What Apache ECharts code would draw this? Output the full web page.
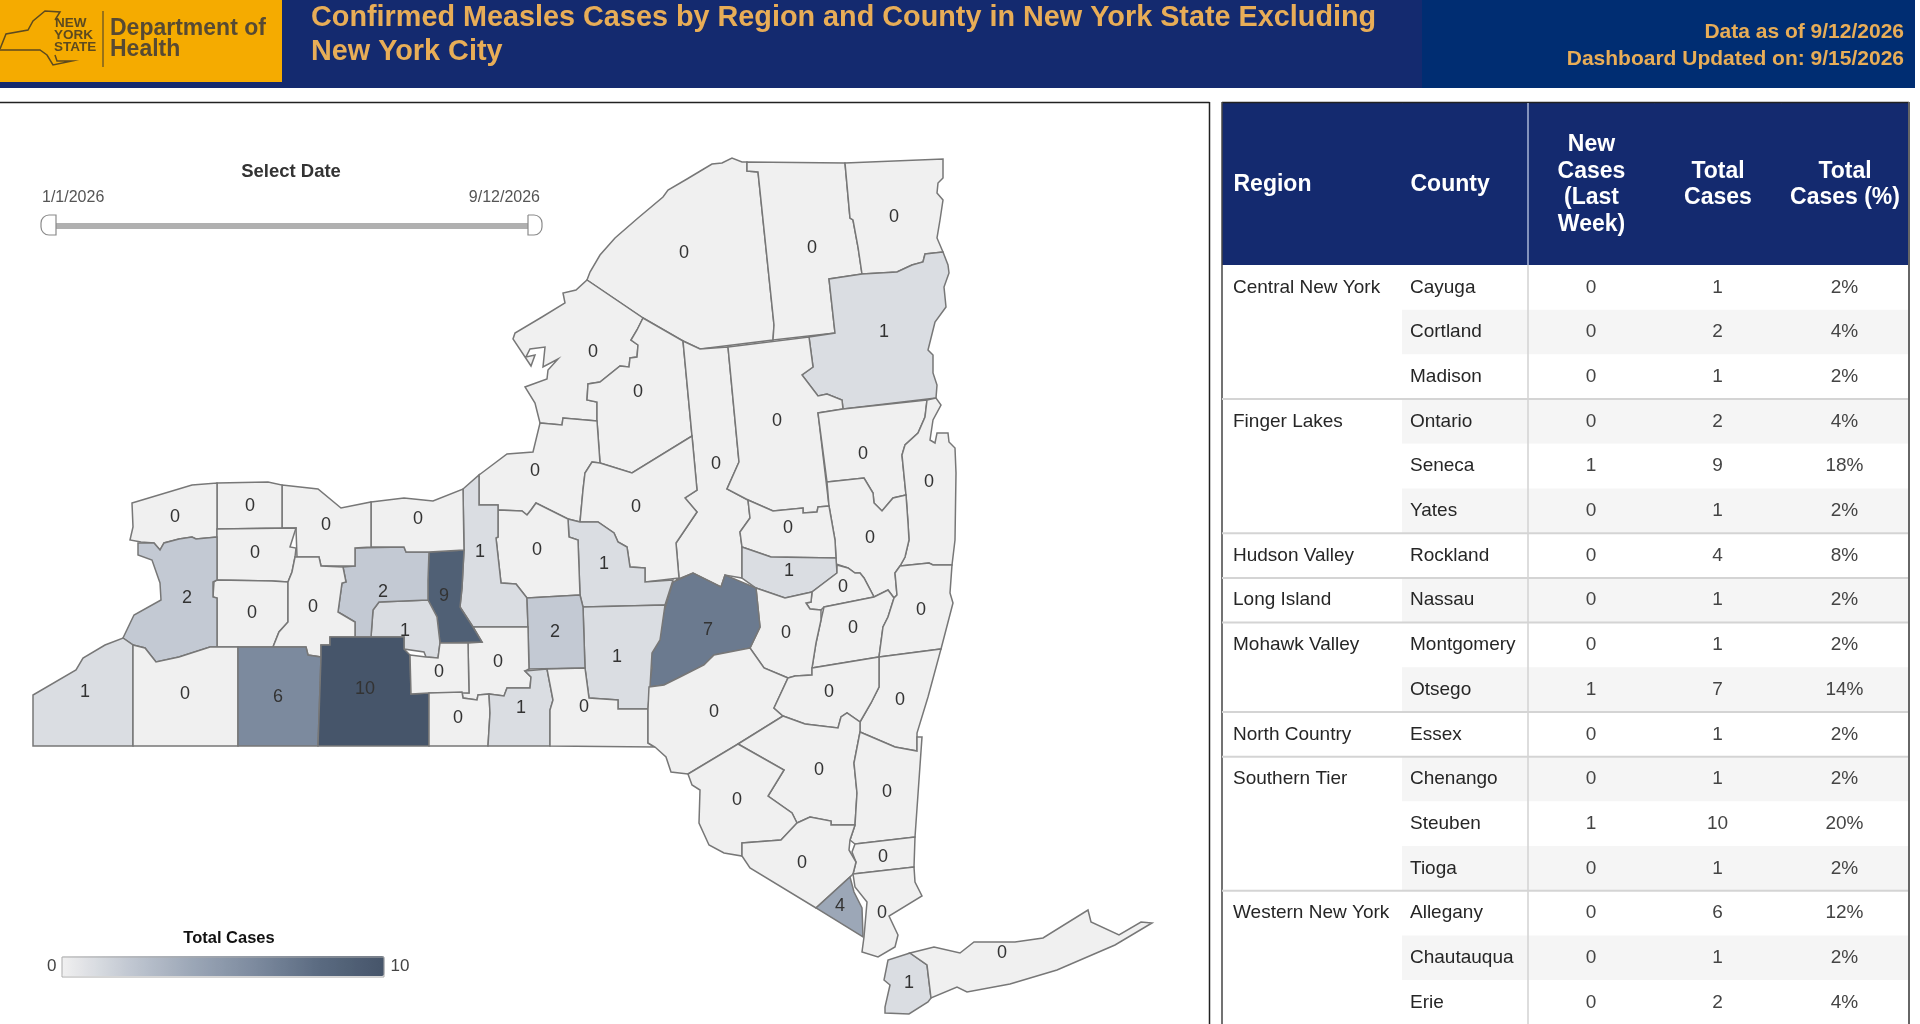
<!DOCTYPE html>
<html>
<head>
<meta charset="utf-8">
<title>Confirmed Measles Cases</title>
<script src="https://cdn.jsdelivr.net/npm/echarts@6/dist/echarts.min.js"></script>
<style>
html, body { margin: 0; padding: 0; background: #fff; overflow: hidden; }
#main { width: 1920px; height: 1024px; }
</style>
</head>
<body>
<div id="main"></div>
<script>
// table columns
var tableHeaders = ['Region', 'County', 'New\nCases\n(Last\nWeek)', 'Total\nCases', 'Total\nCases (%)'];
var tableRegions = ['Central New York', '', '', 'Finger Lakes', '', '', 'Hudson Valley', 'Long Island', 'Mohawk Valley', '', 'North Country', 'Southern Tier', '', '', 'Western New York', '', ''];
var tableCounties = ['Cayuga', 'Cortland', 'Madison', 'Ontario', 'Seneca', 'Yates', 'Rockland', 'Nassau', 'Montgomery', 'Otsego', 'Essex', 'Chenango', 'Steuben', 'Tioga', 'Allegany', 'Chautauqua', 'Erie'];
var tableNewCases = [0, 0, 0, 0, 1, 0, 0, 0, 0, 1, 0, 0, 1, 0, 0, 0, 0];
var tableTotalCases = [1, 2, 1, 2, 9, 1, 4, 1, 1, 7, 1, 1, 10, 1, 6, 1, 2];
var tablePercent = ['2%', '4%', '2%', '4%', '18%', '2%', '8%', '2%', '2%', '14%', '2%', '2%', '20%', '2%', '12%', '2%', '4%'];

// counties on the map, total cases (all the others are zero)
var countyNames = ['St. Lawrence', 'Franklin', 'Clinton', 'Essex', 'Jefferson', 'Lewis', 'Herkimer', 'Hamilton', 'Warren', 'Washington', 'Saratoga', 'Fulton', 'Montgomery', 'Oswego', 'Oneida', 'Schenectady', 'Albany', 'Rensselaer', 'Schoharie', 'Otsego', 'Madison', 'Onondaga', 'Cayuga', 'Chenango', 'Cortland', 'Tompkins', 'Seneca', 'Yates', 'Ontario', 'Wayne', 'Monroe', 'Orleans', 'Niagara', 'Genesee', 'Wyoming', 'Livingston', 'Erie', 'Chautauqua', 'Cattaraugus', 'Allegany', 'Steuben', 'Schuyler', 'Chemung', 'Tioga', 'Broome', 'Delaware', 'Columbia', 'Greene', 'Ulster', 'Sullivan', 'Dutchess', 'Putnam', 'Orange', 'Rockland', 'Westchester', 'Nassau', 'Suffolk'];
var countyTotals = [0, 0, 0, 1, 0, 0, 0, 0, 0, 0, 0, 0, 1, 0, 0, 0, 0, 0, 0, 7, 1, 0, 1, 1, 2, 0, 9, 1, 2, 0, 0, 0, 0, 0, 0, 0, 2, 1, 0, 6, 10, 0, 0, 1, 0, 0, 0, 0, 0, 0, 0, 0, 0, 4, 0, 1, 0];

// where each county's number sits
var labelSpots = {
	'St. Lawrence': [684, 253], 'Franklin': [812, 248], 'Clinton': [894, 217], 'Essex': [884, 332], 'Jefferson': [593, 352],
	'Lewis': [638, 392], 'Herkimer': [716, 464], 'Hamilton': [777, 421], 'Warren': [863, 454], 'Washington': [929, 482],
	'Saratoga': [870, 538], 'Fulton': [788, 528], 'Montgomery': [789, 571], 'Oswego': [535, 471], 'Oneida': [636, 507],
	'Schenectady': [843, 587], 'Albany': [853, 628], 'Rensselaer': [921, 610], 'Schoharie': [786, 633], 'Otsego': [708, 630],
	'Madison': [604, 564], 'Onondaga': [537, 550], 'Cayuga': [480, 552], 'Chenango': [617, 657], 'Cortland': [555, 632],
	'Tompkins': [498, 662], 'Seneca': [444, 596], 'Yates': [405, 631], 'Ontario': [383, 592], 'Wayne': [418, 519],
	'Monroe': [326, 525], 'Orleans': [250, 506], 'Niagara': [175, 517], 'Genesee': [255, 553], 'Wyoming': [252, 613],
	'Livingston': [313, 607], 'Erie': [187, 598], 'Chautauqua': [85, 692], 'Cattaraugus': [185, 694], 'Allegany': [278, 697],
	'Steuben': [365, 689], 'Schuyler': [439, 672], 'Chemung': [458, 718], 'Tioga': [521, 708], 'Broome': [584, 707],
	'Delaware': [714, 712], 'Columbia': [900, 700], 'Greene': [829, 692], 'Ulster': [819, 770], 'Sullivan': [737, 800],
	'Dutchess': [887, 792], 'Putnam': [883, 857], 'Orange': [802, 863], 'Rockland': [840, 906], 'Westchester': [882, 913],
	'Nassau': [909, 983], 'Suffolk': [1002, 953]
};

// county outlines
var countyOutlines = {
	'St. Lawrence': [[587,280],[590,272],[600,255],[615,238],[638,218],[663,197],[668,190],[687,179],[702,170],[712,164],[722,163],[732,158],[742,162],[747,162],[747,171],[758,172],[774,325],[773,340],[700,349],[683,341],[643,318]],
	'Franklin': [[747,162],[845,163],[850,218],[853,220],[858,247],[862,274],[829,279],[835,333],[773,340],[774,325],[758,172],[747,171]],
	'Clinton': [[845,163],[943,159],[943,178],[938,183],[937,193],[943,200],[940,220],[937,238],[943,252],[925,254],[923,262],[912,265],[897,272],[862,274],[858,247],[853,220],[850,218]],
	'Essex': [[829,279],[862,274],[897,272],[912,265],[923,262],[925,254],[943,252],[948,265],[949,273],[944,287],[946,307],[935,322],[928,350],[933,355],[933,373],[937,385],[936,398],[843,409],[842,400],[827,394],[818,396],[802,375],[813,367],[809,337],[835,333]],
	'Jefferson': [[587,280],[643,318],[637,330],[631,340],[638,345],[637,357],[630,358],[629,367],[620,366],[600,382],[588,384],[587,400],[597,402],[597,421],[563,418],[562,425],[540,423],[535,403],[525,387],[547,379],[548,370],[558,359],[543,367],[545,347],[530,349],[526,357],[535,355],[531,366],[513,339],[515,333],[542,317],[565,303],[563,293],[576,290]],
	'Lewis': [[643,318],[683,341],[692,436],[632,473],[600,463],[597,421],[597,402],[587,400],[588,384],[600,382],[620,366],[629,367],[630,358],[637,357],[638,345],[631,340],[637,330]],
	'Herkimer': [[683,341],[700,349],[728,347],[739,462],[727,489],[748,500],[750,518],[740,532],[742,547],[742,578],[725,575],[721,587],[693,573],[676,580],[679,578],[676,543],[697,512],[685,498],[697,490],[692,436]],
	'Hamilton': [[728,347],[809,337],[813,367],[802,375],[818,396],[827,394],[842,400],[843,409],[818,413],[829,506],[818,507],[817,512],[803,513],[803,508],[773,511],[748,500],[727,489],[739,462]],
	'Warren': [[818,413],[843,409],[927,400],[925,417],[918,433],[905,445],[902,455],[906,495],[893,498],[882,511],[874,503],[873,493],[864,478],[827,482]],
	'Washington': [[927,400],[936,398],[941,405],[933,420],[930,440],[935,443],[937,433],[948,433],[949,442],[955,448],[956,473],[955,540],[952,565],[933,565],[929,563],[900,566],[905,557],[909,540],[908,523],[906,495],[902,455],[905,445],[918,433],[925,417]],
	'Saratoga': [[827,482],[864,478],[873,493],[874,503],[882,511],[893,498],[906,495],[908,523],[909,540],[905,557],[900,566],[895,573],[897,595],[894,598],[888,590],[874,597],[864,578],[860,573],[855,573],[848,568],[836,564],[836,558],[835,540],[829,506]],
	'Fulton': [[748,500],[773,511],[803,508],[803,513],[817,512],[818,507],[829,506],[835,540],[836,558],[771,557],[742,547],[740,532],[750,518]],
	'Montgomery': [[742,547],[771,557],[836,558],[837,573],[812,592],[785,598],[756,588],[742,578]],
	'Oswego': [[540,423],[562,425],[563,418],[597,421],[600,463],[592,462],[585,473],[583,490],[580,522],[568,519],[536,503],[531,510],[527,515],[522,511],[498,510],[498,505],[479,505],[479,475],[507,454],[533,452]],
	'Oneida': [[592,462],[600,463],[632,473],[692,436],[697,490],[685,498],[697,512],[676,543],[679,578],[645,582],[645,568],[630,567],[627,547],[618,542],[614,533],[598,522],[580,522],[583,490],[585,473]],
	'Schenectady': [[837,565],[848,568],[855,573],[860,573],[864,578],[874,597],[824,607],[821,610],[810,609],[806,603],[811,602],[812,592],[837,573]],
	'Albany': [[824,607],[874,597],[888,590],[894,598],[888,617],[883,627],[879,657],[812,668],[816,643],[821,620]],
	'Rensselaer': [[900,566],[929,563],[933,565],[952,565],[950,593],[953,603],[941,649],[879,657],[883,627],[888,617],[894,598],[897,595],[895,573]],
	'Schoharie': [[756,588],[785,598],[812,592],[811,602],[806,603],[810,609],[821,610],[821,620],[816,643],[812,668],[812,675],[795,676],[788,678],[764,668],[750,648],[760,627]],
	'Otsego': [[673,582],[693,573],[721,587],[725,575],[756,588],[760,627],[750,648],[714,655],[704,665],[680,677],[664,685],[649,687],[652,668],[650,653],[655,642],[661,620],[666,605]],
	'Madison': [[568,519],[580,522],[598,522],[614,533],[618,542],[627,547],[630,567],[645,568],[645,582],[673,580],[665,605],[583,607],[580,595],[578,540],[569,537]],
	'Onondaga': [[498,510],[522,511],[527,515],[531,510],[536,503],[568,519],[569,537],[578,540],[580,595],[527,598],[516,584],[501,583],[496,538],[498,537]],
	'Cayuga': [[479,475],[479,505],[498,505],[498,537],[496,538],[501,583],[516,584],[527,598],[528,627],[473,627],[460,607],[462,588],[464,550],[463,489]],
	'Chenango': [[583,607],[665,605],[660,640],[652,653],[650,687],[648,709],[618,709],[618,700],[589,698],[585,668]],
	'Cortland': [[527,598],[580,595],[583,607],[585,668],[529,669],[528,627]],
	'Tompkins': [[473,627],[528,627],[529,669],[525,671],[531,677],[530,688],[507,688],[504,696],[489,694],[478,695],[477,700],[463,698],[462,692],[469,693],[468,643],[482,642]],
	'Seneca': [[429,552],[464,550],[462,588],[460,607],[473,627],[482,642],[440,643],[437,617],[428,600],[428,580]],
	'Yates': [[379,602],[428,600],[437,617],[440,643],[438,658],[426,657],[424,652],[404,649],[404,637],[371,637],[373,610]],
	'Ontario': [[355,548],[404,547],[406,552],[429,552],[428,580],[428,600],[379,602],[373,610],[371,637],[355,637],[355,622],[338,612],[342,583],[346,582],[343,567],[355,566]],
	'Wayne': [[371,502],[404,498],[433,501],[463,489],[464,550],[429,552],[406,552],[404,547],[371,547]],
	'Monroe': [[282,485],[318,489],[341,508],[371,502],[371,547],[355,548],[355,566],[321,566],[319,557],[297,557],[296,528],[282,528]],
	'Orleans': [[217,483],[268,482],[282,485],[282,528],[217,529]],
	'Niagara': [[132,503],[192,485],[217,483],[217,529],[217,537],[196,539],[192,537],[179,539],[164,543],[160,550],[154,543],[141,542],[130,540],[133,527]],
	'Genesee': [[217,529],[296,528],[290,547],[296,548],[295,557],[292,572],[288,582],[272,581],[217,580]],
	'Wyoming': [[214,582],[217,580],[272,581],[288,582],[288,622],[279,632],[273,647],[217,647],[217,598],[213,597]],
	'Livingston': [[297,557],[319,557],[321,566],[343,567],[346,582],[342,583],[338,612],[355,622],[355,637],[330,637],[330,645],[321,645],[321,657],[308,655],[306,647],[273,647],[279,632],[288,622],[288,582],[292,572],[295,557]],
	'Erie': [[138,543],[154,543],[160,550],[164,543],[179,539],[192,537],[196,539],[217,537],[217,580],[213,582],[213,597],[217,598],[217,647],[210,647],[179,657],[156,662],[145,648],[133,645],[123,638],[134,615],[161,600],[160,583],[152,560],[138,555]],
	'Chautauqua': [[123,638],[133,645],[133,746],[33,746],[33,695],[76,670],[83,658],[105,645]],
	'Cattaraugus': [[133,645],[145,648],[156,662],[179,657],[210,647],[238,647],[238,746],[133,746]],
	'Allegany': [[238,647],[306,647],[308,655],[321,657],[318,746],[238,746]],
	'Steuben': [[330,637],[404,637],[404,649],[410,655],[411,694],[429,693],[429,746],[318,746],[321,657],[321,645],[330,645]],
	'Schuyler': [[410,655],[426,657],[438,658],[440,643],[468,643],[469,693],[429,693],[411,694]],
	'Chemung': [[429,693],[462,692],[463,698],[477,700],[478,695],[489,694],[490,713],[488,746],[429,746]],
	'Tioga': [[489,694],[504,696],[507,688],[530,688],[531,677],[525,671],[547,669],[553,700],[550,710],[550,746],[488,746],[490,713]],
	'Broome': [[547,669],[585,668],[589,698],[618,700],[618,709],[648,709],[648,743],[655,747],[550,746],[550,710],[553,700]],
	'Delaware': [[649,687],[664,685],[680,677],[704,665],[714,655],[750,648],[764,668],[788,678],[774,708],[783,716],[738,744],[688,774],[671,772],[666,757],[655,747],[648,743],[648,709]],
	'Greene': [[788,678],[795,676],[812,675],[812,668],[879,657],[879,687],[871,703],[860,722],[847,713],[841,717],[838,728],[805,724],[783,716],[774,708]],
	'Columbia': [[879,657],[941,649],[928,697],[917,733],[917,751],[895,747],[860,732],[860,722],[871,703],[879,687]],
	'Ulster': [[783,716],[805,724],[838,728],[841,717],[847,713],[860,722],[860,732],[854,763],[857,793],[855,825],[831,825],[831,821],[810,817],[797,823],[792,813],[768,796],[784,770],[738,744]],
	'Sullivan': [[738,744],[784,770],[768,796],[792,813],[797,823],[781,840],[742,843],[742,856],[724,853],[709,845],[699,823],[700,790],[692,785],[688,774]],
	'Dutchess': [[860,732],[895,747],[917,751],[917,737],[922,737],[915,837],[855,844],[850,840],[855,825],[857,793],[854,763]],
	'Putnam': [[855,844],[915,837],[914,867],[853,874],[856,862],[852,852]],
	'Orange': [[797,823],[810,817],[831,821],[831,825],[855,825],[850,840],[849,850],[856,862],[853,874],[850,877],[816,908],[750,868],[742,856],[742,843],[781,840]],
	'Rockland': [[850,877],[854,892],[862,908],[863,937],[816,908]],
	'Westchester': [[853,874],[914,867],[915,882],[922,896],[889,916],[898,935],[895,947],[878,957],[862,952],[864,937],[867,902],[855,887]],
	'Nassau': [[910,953],[888,960],[884,980],[890,985],[885,1007],[885,1013],[909,1014],[928,1002],[931,998],[927,965]],
	'Suffolk': [[910,953],[934,947],[960,953],[974,942],[1015,942],[1043,938],[1088,910],[1091,922],[1119,935],[1141,922],[1152,923],[1115,945],[1057,970],[1010,984],[967,992],[957,987],[931,998],[927,965]]
};

var shadeRamp = ['#f0f0f0', '#c3c9d3', '#9ca7b7', '#7c8a9e', '#5a6a80', '#46556a'];

var fontName = '"Liberation Sans", Arial, sans-serif';
var navy = '#142a6f';
var gold = '#e8ad57';

var tableLeft = 1222, tableTop = 103, headerH = 162, rowH = 44.7;
var colWidths = [180, 126, 126, 127, 127];
var textInset = [8, 5];

function buildGeoJson() {
	var features = [];
	for (var i = 0; i < countyNames.length; i++) {
		var name = countyNames[i];
		var ring = countyOutlines[name].slice();
		ring.push(ring[0]);
		features.push({
			type : 'Feature',
			properties : { name : name, cp : labelSpots[name] },
			geometry : { type : 'Polygon', coordinates : [ ring ] }
		});
	}
	return { type : 'FeatureCollection', features : features };
}

function buildMapData() {
	var list = [];
	for (var i = 0; i < countyNames.length; i++) {
		list.push({ name : countyNames[i], value : countyTotals[i] });
	}
	return list;
}

function buildCells() {
	var cells = [];
	var i, c;
	for (c = 0; c < tableHeaders.length; c++) {
		cells.push({
			coord : [ c, 0 ],
			value : tableHeaders[c],
			itemStyle : { color : navy, borderColor : navy, borderWidth : 1 },
			label : {
				color : '#fff', fontWeight : 'bold', fontSize : 23, lineHeight : 26.5, fontFamily : fontName,
				overflow : 'none',
				position : c < 2 ? 'insideLeft' : 'inside',
				distance : c < 2 ? textInset[c] : 0,
				align : c < 2 ? 'left' : 'center'
			}
		});
	}
	for (i = 0; i < tableCounties.length; i++) {
		var stripe = i % 2 === 1 ? '#f5f5f5' : '#ffffff';
		var row = [ tableRegions[i], tableCounties[i], tableNewCases[i], tableTotalCases[i], tablePercent[i] ];
		for (c = 0; c < row.length; c++) {
			cells.push({
				coord : [ c, i + 1 ],
				value : String(row[c]),
				itemStyle : { color : c === 0 ? '#ffffff' : stripe, borderWidth : 0 },
				label : {
					color : c < 2 ? '#262626' : '#444', fontSize : 19, fontFamily : fontName,
					overflow : 'none',
					position : c < 2 ? 'insideLeft' : 'inside',
					distance : c < 2 ? textInset[c] : 0,
					align : c < 2 ? 'left' : 'center'
				}
			});
		}
	}
	return cells;
}

function rowSizes() {
	var sizes = [ { value : 'header', size : headerH } ];
	for (var i = 0; i < tableCounties.length; i++) {
		sizes.push({ value : tableCounties[i], size : rowH });
	}
	return sizes;
}

function colSizes() {
	var sizes = [];
	for (var c = 0; c < colWidths.length; c++) {
		sizes.push({ value : 'c' + c, size : colWidths[c] });
	}
	return sizes;
}

function line(x1, y1, x2, y2, color, width) {
	return {
		type : 'line', silent : true, z : 50,
		shape : { x1 : x1, y1 : y1, x2 : x2, y2 : y2 },
		style : { stroke : color, lineWidth : width }
	};
}

function text(x, y, str, size, color, weight, align) {
	return {
		type : 'text', silent : true, z : 60, x : x, y : y,
		style : {
			text : str, fontSize : size, fontWeight : weight || 'normal', fill : color,
			fontFamily : fontName, align : align || 'left', verticalAlign : 'middle'
		}
	};
}

function buildGraphics() {
	var g = [];
	// banner
	g.push({ type : 'rect', silent : true, z : 40, shape : { x : 0, y : 0, width : 1915, height : 88 }, style : { fill : navy } });
	g.push({ type : 'rect', silent : true, z : 41, shape : { x : 1422, y : 0, width : 493, height : 88 }, style : { fill : '#002d72' } });
	g.push({ type : 'rect', silent : true, z : 41, shape : { x : 0, y : 0, width : 282, height : 82 }, style : { fill : '#f5ab00' } });
	g.push(text(311, 18, 'Confirmed Measles Cases by Region and County in New York State Excluding', 28.8, gold, 'bold'));
	g.push(text(311, 52, 'New York City', 28.8, gold, 'bold'));
	g.push(text(1904, 32, 'Data as of 9/12/2026', 21, gold, 'bold', 'right'));
	g.push(text(1904, 59, 'Dashboard Updated on: 9/15/2026', 21, gold, 'bold', 'right'));
	// logo
	g.push({
		type : 'polyline', silent : true, z : 60,
		shape : { points : [[0,49],[6,34],[28,30],[33,21],[45,11],[60,12],[55,20]] },
		style : { stroke : '#5d4a1f', lineWidth : 1.5, fill : null }
	});
	g.push({
		type : 'polyline', silent : true, z : 60,
		shape : { points : [[0,50],[40,50],[47,55],[53,65],[72,61],[57,61],[55,55]] },
		style : { stroke : '#5d4a1f', lineWidth : 1.5, fill : null }
	});
	g.push(text(55, 23, 'NEW', 13.5, '#5d4a1f', 'bold'));
	g.push(text(54, 35, 'YORK', 13.5, '#5d4a1f', 'bold'));
	g.push(text(54, 47, 'STATE', 13.5, '#5d4a1f', 'bold'));
	g.push(line(103, 11, 103, 67, '#7a5f20', 1.5));
	g.push(text(110, 29, 'Department of', 23, '#574a33', 'bold'));
	g.push(text(110, 50, 'Health', 23, '#574a33', 'bold'));
	// map panel frame
	g.push(line(0, 102.5, 1209.5, 102.5, '#222', 1.5));
	g.push(line(1209.5, 102, 1209.5, 1024, '#222', 1.5));
	// date slider
	g.push(text(291, 172, 'Select Date', 18.5, '#333', 'bold', 'center'));
	g.push(text(42, 198, '1/1/2026', 16, '#555'));
	g.push(text(540, 198, '9/12/2026', 16, '#555', 'normal', 'right'));
	g.push({ type : 'rect', silent : true, z : 50, shape : { x : 55, y : 223, width : 473, height : 6 }, style : { fill : '#b0b0b0' } });
	g.push({ type : 'rect', silent : true, z : 51, shape : { x : 41, y : 215, width : 15, height : 20, r : [ 8, 0, 0, 8 ] }, style : { fill : '#fff', stroke : '#8a8a8a', lineWidth : 1.2 } });
	g.push({ type : 'rect', silent : true, z : 51, shape : { x : 528, y : 215, width : 14, height : 20, r : [ 0, 8, 8, 0 ] }, style : { fill : '#fff', stroke : '#8a8a8a', lineWidth : 1.2 } });
	// legend
	g.push(text(229, 938, 'Total Cases', 16.5, '#111', 'bold', 'center'));
	g.push({ type : 'rect', silent : true, z : 60, shape : { x : 62, y : 957, width : 322, height : 20 }, style : { fill : null, stroke : '#aaa', lineWidth : 1 } });
	// table rules
	var bodyTop = tableTop + headerH;
	var splitX = tableLeft + colWidths[0] + colWidths[1];
	g.push(line(tableLeft, 102.5, 1909, 102.5, '#222', 1.5));
	g.push(line(tableLeft, 102, tableLeft, 1024, '#444', 1.5));
	g.push(line(1909, 102, 1909, 1024, '#666', 2));
	g.push(line(splitX, tableTop, splitX, bodyTop, '#a9b6d6', 1.5));
	g.push(line(splitX, bodyTop, splitX, 1024, '#d2d2d2', 1.5));
	for (var i = 1; i < tableRegions.length; i++) {
		if (tableRegions[i]) {
			var y = bodyTop + i * rowH;
			g.push(line(tableLeft, y, 1908, y, '#d4d4d4', 2));
		}
	}
	return g;
}

function showMeaslesChart() {
	echarts.registerMap('nysCounties', buildGeoJson());
	var myChart = echarts.init(document.getElementById('main'));
	var option = {
		backgroundColor : '#ffffff',
		animation : false,
		textStyle : { fontFamily : fontName },
		visualMap : {
			type : 'continuous',
			seriesIndex : 0,
			min : 0,
			max : 10,
			orient : 'horizontal',
			left : 32,
			top : 941,
			itemWidth : 20,
			itemHeight : 322,
			text : [ '10', '0' ],
			textGap : 6,
			calculable : false,
			hoverLink : false,
			textStyle : { color : '#444', fontSize : 17, fontFamily : fontName },
			inRange : { color : shadeRamp }
		},
		matrix : {
			left : tableLeft,
			top : tableTop,
			width : 686,
			height : headerH + rowH * tableCounties.length,
			x : { show : false, data : colSizes() },
			y : { show : false, data : rowSizes() },
			body : {
				data : buildCells(),
				itemStyle : { borderWidth : 0 },
				splitLine : { show : false }
			},
			backgroundStyle : { borderWidth : 0 }
		},
		graphic : buildGraphics(),
		series : [ {
			name : 'Total Cases',
			type : 'map',
			map : 'nysCounties',
			projection : {
				project : function (p) { return p; },
				unproject : function (p) { return p; }
			},
			boundingCoords : [ [ 0, 0 ], [ 1920, 1024 ] ],
			left : 0,
			top : 0,
			width : 1920,
			height : 1024,
			roam : false,
			selectedMode : false,
			emphasis : { disabled : true },
			itemStyle : { borderColor : '#777777', borderWidth : 1.5 },
			label : { show : true, formatter : '{c}', color : '#333', fontSize : 18, fontFamily : fontName },
			data : buildMapData()
		} ]
	};
	myChart.setOption(option);
}
showMeaslesChart();
</script>
</body>
</html>
